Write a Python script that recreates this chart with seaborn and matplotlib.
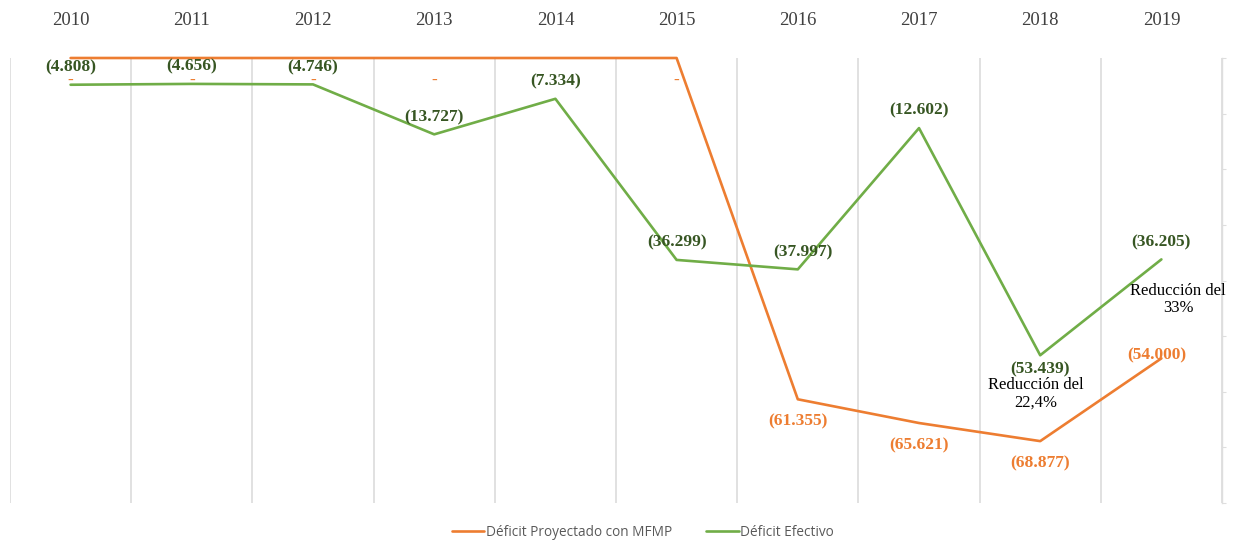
import numpy as np
import pandas as pd
import seaborn as sns
import matplotlib.pyplot as plt
from matplotlib.ticker import FixedLocator, NullFormatter

years = ['2010', '2011', '2012', '2013', '2014', '2015', '2016', '2017', '2018', '2019']
proyectado = [0, 0, 0, 0, 0, 0, -61355, -65621, -68877, -54000]
efectivo = [-4808, -4656, -4746, -13727, -7334, -36299, -37997, -12602, -53439, -36205]
serie_proy = 'Déficit Proyectado con MFMP'
serie_efec = 'Déficit Efectivo'

notes = ['Reducción del\n22,4%', 'Reducción del\n33%']
note_years = ['2018', '2019']

orange = '#ED7D31'
green = '#70AD47'
green_txt = '#375623'
grid_col = '#DEDEDE'

df = pd.DataFrame({
    'Año': years * 2,
    'Valor': [v / 1000 for v in proyectado + efectivo],
    'Serie': [serie_proy] * len(years) + [serie_efec] * len(years),
})


def fmt(v):
    if v == 0:
        return '-'
    return '({:,})'.format(abs(v)).replace(',', '.')


sns.set_style('white')
plt.rcParams['font.family'] = ['Liberation Serif', 'DejaVu Serif']

fig = plt.figure(figsize=(12.36, 5.42), dpi=100)
ax = fig.add_axes([10 / 1236, 39 / 542, 1212 / 1236, 445 / 542])

sns.lineplot(data=df, x='Año', y='Valor', hue='Serie', palette=[orange, green],
             linewidth=1.9, ax=ax, legend=True, sort=False)
for ln in ax.lines:
    ln.set_clip_on(False)

ax.set_xlim(-0.5, 9.5)
ax.set_ylim(-80, 0)
ax.set_xlabel('')
ax.set_ylabel('')

# years on top, no tick marks
ax.xaxis.tick_top()
ax.tick_params(axis='x', which='major', length=0, pad=21, labelsize=13.5, labelcolor='#404040')
ax.xaxis.set_minor_locator(FixedLocator(np.arange(-0.5, 10, 1)))
ax.xaxis.set_minor_formatter(NullFormatter())
ax.tick_params(axis='x', which='minor', length=0)
ax.grid(axis='x', which='minor', color=grid_col, linewidth=1.3)
ax.grid(axis='x', which='major', visible=False)

# right axis with ticks only
ax.yaxis.tick_right()
ax.set_yticks(np.arange(-80, 1, 10))
ax.tick_params(axis='y', length=3, color=grid_col, labelright=False, labelleft=False)
for side in ['top', 'left', 'bottom']:
    ax.spines[side].set_visible(False)
ax.spines['right'].set_color(grid_col)
ax.spines['right'].set_linewidth(1.0)

# data labels
for i, v in enumerate(efectivo):
    dy = -10 if years[i] == '2018' else 12.5
    dx = 4 if years[i] == '2016' else 0
    ax.annotate(fmt(v), (i, v / 1000), xytext=(dx, dy), textcoords='offset points',
                ha='center', va='center', fontsize=12.5, fontweight='bold', color=green_txt)
for i, v in enumerate(proyectado):
    if years[i] == '2014':
        continue
    if v == 0:
        dx, dy = 0, -16.5
    elif years[i] == '2019':
        dx, dy = -3, 2
    else:
        dx, dy = 0, -16
    ax.annotate(fmt(v), (i, v / 1000), xytext=(dx, dy), textcoords='offset points',
                ha='center', va='center', fontsize=12.5, fontweight='bold',
                color=orange, zorder=5)

# reduction notes
ax.annotate(notes[0], (years.index(note_years[0]), proyectado[8] / 1000), xytext=(-3, 34),
            textcoords='offset points', ha='center', va='center', fontsize=12,
            color='black', linespacing=1.1)
ax.annotate(notes[1], (years.index(note_years[1]), efectivo[9] / 1000), xytext=(12, -29),
            textcoords='offset points', ha='center', va='center', fontsize=12,
            color='black', linespacing=1.1)

# legend at bottom
handles, labels = ax.get_legend_handles_labels()
ax.get_legend().remove()
leg = fig.legend(handles, labels, loc='center', bbox_to_anchor=(0.52, 0.018), ncol=2,
                 frameon=False, handlelength=2.4, columnspacing=2.5, handletextpad=0.1,
                 prop={'family': ['Open Sans', 'DejaVu Sans'], 'size': 9.8})
for t in leg.get_texts():
    t.set_color('#595959')

fig.savefig('out.png', dpi=100)
